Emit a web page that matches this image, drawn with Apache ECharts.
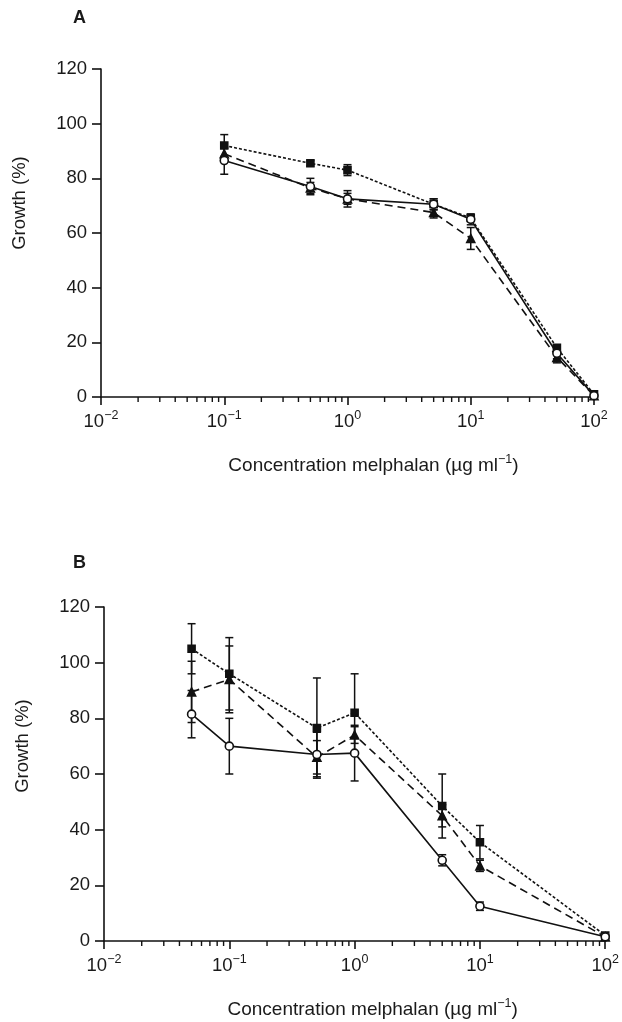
<!DOCTYPE html>
<html>
<head>
<meta charset="utf-8">
<script src="https://cdn.jsdelivr.net/npm/echarts@6/dist/echarts.min.js"></script>
<style>
html,body{margin:0;padding:0;background:#fff;}
#chart{width:622px;height:1022px;}
</style>
</head>
<body>
<div id="chart"></div>
<script>
// ---------- Data ----------
var concA = [0.1, 0.5, 1, 5, 10, 50, 100];
var aSquare = [92, 85.5, 83, 70.5, 65.5, 18, 1];
var aSquareErr = [4, 1, 2, 2, 1, 1, 0];
var aTri = [89, 76.5, 72.5, 67.5, 58, 14.5, 0.5];
var aTriErr = [2, 2, 2, 2, 4, 2, 0];
var aCirc = [86.5, 77, 72.5, 70.5, 65, 16, 0.5];
var aCircErr = [5, 3, 3, 2, 2, 2, 0];

var concB = [0.05, 0.1, 0.5, 1, 5, 10, 100];
var bSquare = [105, 96, 76.5, 82, 48.5, 35.5, 2];
var bSquareErr = [9, 13, 18, 14, 11.5, 6, 0];
var bTri = [89.5, 94, 66, 74, 45, 27, 1.5];
var bTriErr = [11, 12, 6, 3, 4, 2, 0];
var bCirc = [81.5, 70, 67, 67.5, 29, 12.5, 1.5];
var bCircErr = [8.5, 10, 8, 10, 2, 1.5, 0.5];

var yTicks = [0, 20, 40, 60, 80, 100, 120];
var xMin = 0.01, xMax = 100;
var panelTitles = ['A', 'B'];
var yName = 'Growth (%)';

// ---------- Helpers ----------
var FONT = "'Liberation Sans', Arial, Helvetica, sans-serif";
var TXT = '#1a1a1a';
var INK = '#111';
var LW = 1.6;

function pairs(xs, ys) { return xs.map(function (x, i) { return [x, ys[i]]; }); }
function errData(xs, ys, es) {
  return xs.map(function (x, i) { return [x, ys[i] - es[i], ys[i] + es[i]]; });
}
var minorVals = [];
for (var d = -2; d < 2; d++) {
  for (var m = 2; m <= 9; m++) minorVals.push([m * Math.pow(10, d), 0]);
}

function xAxisCfg(gi, shift) {
  return {
    type: 'log', logBase: 10, gridIndex: gi, min: xMin, max: xMax,
    axisLine: { lineStyle: { color: INK, width: LW } },
    axisTick: { show: true, length: 8, lineStyle: { color: INK, width: LW } },
    splitLine: { show: false },
    axisLabel: {
      margin: 12, color: TXT, fontFamily: FONT,
      formatter: function (v) {
        var e = Math.round(Math.log10(v));
        var s = e < 0 ? '\u2212' + (-e) : '' + e;
        return '{b|10}{s|' + s + '}';
      },
      rich: {
        b: { fontSize: 18.5, fontFamily: FONT, color: TXT, lineHeight: 22, verticalAlign: 'bottom' },
        s: { fontSize: 12.5, fontFamily: FONT, color: TXT, lineHeight: 22, verticalAlign: 'top', padding: [0, 0, 11, 0] }
      }
    },
    name: '{n|Concentration melphalan (\u00b5g ml}{s|\u22121}{n|)}',
    nameLocation: 'middle', nameGap: 56,
    nameTextStyle: {
      padding: [0, 0, 0, shift * 2],
      rich: {
        n: { fontSize: 19, fontFamily: FONT, color: TXT, lineHeight: 22, verticalAlign: 'bottom' },
        s: { fontSize: 12.5, fontFamily: FONT, color: TXT, lineHeight: 22, verticalAlign: 'top', padding: [0, 0, 11, 0] }
      }
    }
  };
}
function yAxisCfg(gi, shift) {
  return {
    type: 'value', gridIndex: gi, min: 0, max: 120, interval: 20,
    axisLine: { show: true, lineStyle: { color: INK, width: LW } },
    axisTick: { show: true, length: 9, lineStyle: { color: INK, width: LW } },
    splitLine: { show: false },
    axisLabel: { margin: 14, color: TXT, fontSize: 18.5, fontFamily: FONT },
    name: yName, nameLocation: 'middle', nameGap: 72, nameRotate: 90,
    nameTextStyle: { color: TXT, fontSize: 18.5, fontFamily: FONT, padding: [0, 0, 0, shift * 2] }
  };
}

function lineSeries(gi, xs, ys, symbol, size, filled, dash, z) {
  return {
    type: 'line', xAxisIndex: gi, yAxisIndex: gi, data: pairs(xs, ys),
    symbol: symbol, symbolSize: size, showSymbol: true,
    lineStyle: { color: INK, width: LW, type: dash },
    itemStyle: { color: filled ? INK : '#fff', borderColor: INK, borderWidth: 1.6 },
    z: z, animation: false
  };
}
function errSeries(gi, xs, ys, es) {
  return {
    type: 'custom', xAxisIndex: gi, yAxisIndex: gi, data: errData(xs, ys, es),
    encode: { x: 0, y: [1, 2] }, z: 2, clip: false, animation: false,
    renderItem: function (params, api) {
      var lo = api.coord([api.value(0), api.value(1)]);
      var hi = api.coord([api.value(0), api.value(2)]);
      var w = 4;
      var st = { stroke: INK, lineWidth: 1.5, fill: null };
      return { type: 'group', children: [
        { type: 'line', shape: { x1: lo[0], y1: lo[1], x2: hi[0], y2: hi[1] }, style: st },
        { type: 'line', shape: { x1: lo[0] - w, y1: lo[1], x2: lo[0] + w, y2: lo[1] }, style: st },
        { type: 'line', shape: { x1: hi[0] - w, y1: hi[1], x2: hi[0] + w, y2: hi[1] }, style: st }
      ] };
    }
  };
}
function minorTickSeries(gi) {
  return {
    type: 'custom', xAxisIndex: gi, yAxisIndex: gi, data: minorVals,
    clip: false, silent: true, animation: false, z: 1,
    renderItem: function (params, api) {
      var p = api.coord([api.value(0), 0]);
      return { type: 'line', shape: { x1: p[0], y1: p[1], x2: p[0], y2: p[1] + 5 },
        style: { stroke: INK, lineWidth: 1.4 } };
    }
  };
}

var option = {
  backgroundColor: '#fff',
  animation: false,
  grid: [
    { left: 101, top: 69, width: 493, height: 328 },
    { left: 104, top: 607, width: 503, height: 335 }
  ],
  xAxis: [xAxisCfg(0, 26), xAxisCfg(1, 18)],
  yAxis: [yAxisCfg(0, 30), yAxisCfg(1, 28)],
  graphic: [
    { type: 'text', left: 73, top: 9, style: { text: panelTitles[0], font: 'bold 18px ' + FONT, fill: TXT } },
    { type: 'text', left: 73, top: 554, style: { text: panelTitles[1], font: 'bold 18px ' + FONT, fill: TXT } }
  ],
  series: [
    minorTickSeries(0), minorTickSeries(1),
    errSeries(0, concA, aSquare, aSquareErr),
    errSeries(0, concA, aTri, aTriErr),
    errSeries(0, concA, aCirc, aCircErr),
    lineSeries(0, concA, aSquare, 'rect', 7, true, [3, 2], 3),
    lineSeries(0, concA, aTri, 'triangle', 8, true, [8, 5], 4),
    lineSeries(0, concA, aCirc, 'circle', 8, false, 'solid', 5),
    errSeries(1, concB, bSquare, bSquareErr),
    errSeries(1, concB, bTri, bTriErr),
    errSeries(1, concB, bCirc, bCircErr),
    lineSeries(1, concB, bSquare, 'rect', 7, true, [3, 2], 3),
    lineSeries(1, concB, bTri, 'triangle', 8, true, [8, 5], 4),
    lineSeries(1, concB, bCirc, 'circle', 8, false, 'solid', 5)
  ]
};
var chart = echarts.init(document.getElementById('chart'), null, { renderer: 'canvas' });
chart.setOption(option);
</script>
</body>
</html>
